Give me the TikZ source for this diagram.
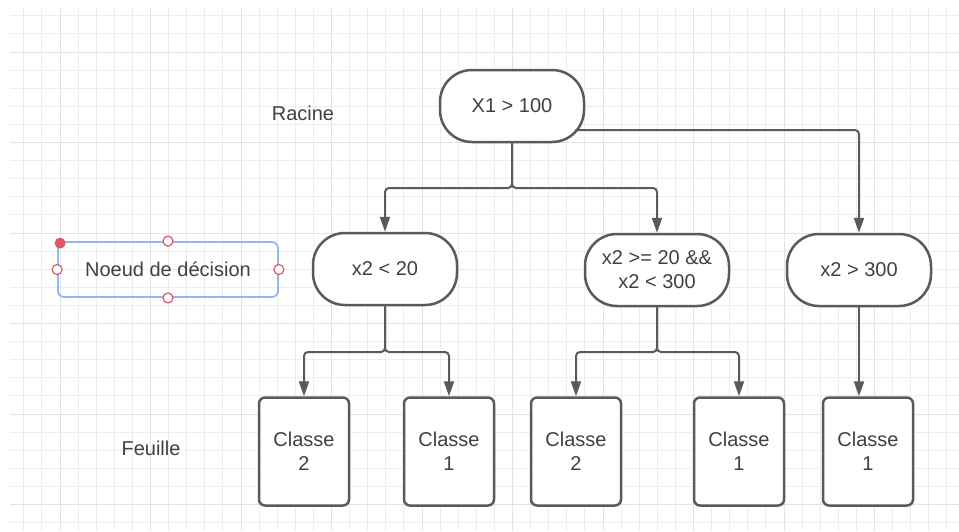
\documentclass[tikz,border=0pt]{standalone}
\usepackage{fontspec}
\setmainfont{Liberation Sans}
\usetikzlibrary{arrows.meta,backgrounds}
\definecolor{gridmin}{HTML}{EDEDED}
\definecolor{gridmaj}{HTML}{E3E3E3}
\definecolor{edgegray}{HTML}{5A5A5A}
\definecolor{txtgray}{HTML}{404040}
\definecolor{selblue}{HTML}{8DBAF2}
\definecolor{handred}{HTML}{E05565}
\tikzset{dn/.style={draw=edgegray,fill=white,line width=1.25pt,rounded corners=16pt,minimum
width=72pt,minimum height=36pt,align=center,text=txtgray,inner sep=2pt},lf/.style={draw=edgegray,fill=white,line width=1.25pt,rounded corners=3pt,minimum
width=45pt,minimum height=54pt,align=center,text=txtgray},sel/.style={draw=selblue,line width=0.9pt,rounded corners=3pt,minimum
width=110pt,minimum height=27.5pt,text=txtgray},hdl/.style={circle,draw=handred,fill=white,line width=0.6pt,minimum
size=5pt,inner sep=0pt}}
\tikzstyle{conn}      = [draw=edgegray,line width=1pt,rounded corners=2pt,-{Triangle[width=5pt,length=7.5pt]}]
\tikzstyle{lbl}       = [text=txtgray]

\begin{document}
\begin{tikzpicture}[x=0.5pt,y=-0.5pt]
		\useasboundingbox (0,0) rectangle (959,531);
		% grid
		\begin{scope}[on background layer]
			\fill[white] (0,0) rectangle (959,531);
			\clip (10,8) rectangle (959,531);
			\foreach \j in {-2,...,49}
				\draw[gridmin,line width=0.5pt] ({60+18.1*\j},8) -- ({60+18.1*\j},531);
			\foreach \j in {-2,...,26}
				\draw[gridmin,line width=0.5pt] (10,{52+18.1*\j}) -- (959,{52+18.1*\j});
			\foreach \j in {0,5,...,45}
				\draw[gridmaj,line width=0.5pt] ({60+18.1*\j},8) -- ({60+18.1*\j},531);
			\foreach \j in {0,5,...,25}
				\draw[gridmaj,line width=0.5pt] (10,{52+18.1*\j}) -- (959,{52+18.1*\j});
		\end{scope}

		\node[lbl] (racine) at (303,113) {Racine};
		\node[lbl] (feuille) at (151,448) {Feuille};

		\node[dn] (root) at (512,106) {X1 > 100};
		\node[dn] (lo) at (385,269) {x2 < 20};
		\node[dn] (mid) at (657,270) {x2 >= 20 \&\&\\x2 < 300};
		\node[dn] (hi) at (859,270) {x2 > 300};

		\node[lf] (c1) at (304,451.5) {Classe\\2};
		\node[lf] (c2) at (449,451.5) {Classe\\1};
		\node[lf] (c3) at (576,451.5) {Classe\\2};
		\node[lf] (c4) at (739,451.5) {Classe\\1};
		\node[lf] (c5) at (868,451.5) {Classe\\1};

		\coordinate (j0) at (512,188);
		\coordinate (j1) at (385,352);
		\coordinate (j2) at (657,352);

		\draw[conn] (root.south) -- (j0) -| (lo.north);
		\draw[conn] (root.south) -- (j0) -| (mid.north);
		\draw[conn] ([xshift=-5pt,yshift=-12pt]root.east) -| (hi.north);
		\draw[conn] (lo.south) -- (j1) -| (c1.north);
		\draw[conn] (lo.south) -- (j1) -| (c2.north);
		\draw[conn] (mid.south) -- (j2) -| (c3.north);
		\draw[conn] (mid.south) -- (j2) -| (c4.north);
		\draw[conn] (hi.south) -- (hi.south |- c5.north);

		% selected shape
		\node[sel] (nd) at (168,269.5) {Noeud de décision};
		\foreach \a in {north,south,east,west}
			\node[hdl] (h-\a) at (nd.\a) {};
		\node[circle,fill=handred,minimum size=5.5pt,inner sep=0pt] (hdot) at ([xshift=1.5pt,yshift=-1pt]nd.north west) {};
	\end{tikzpicture}
\end{document}
